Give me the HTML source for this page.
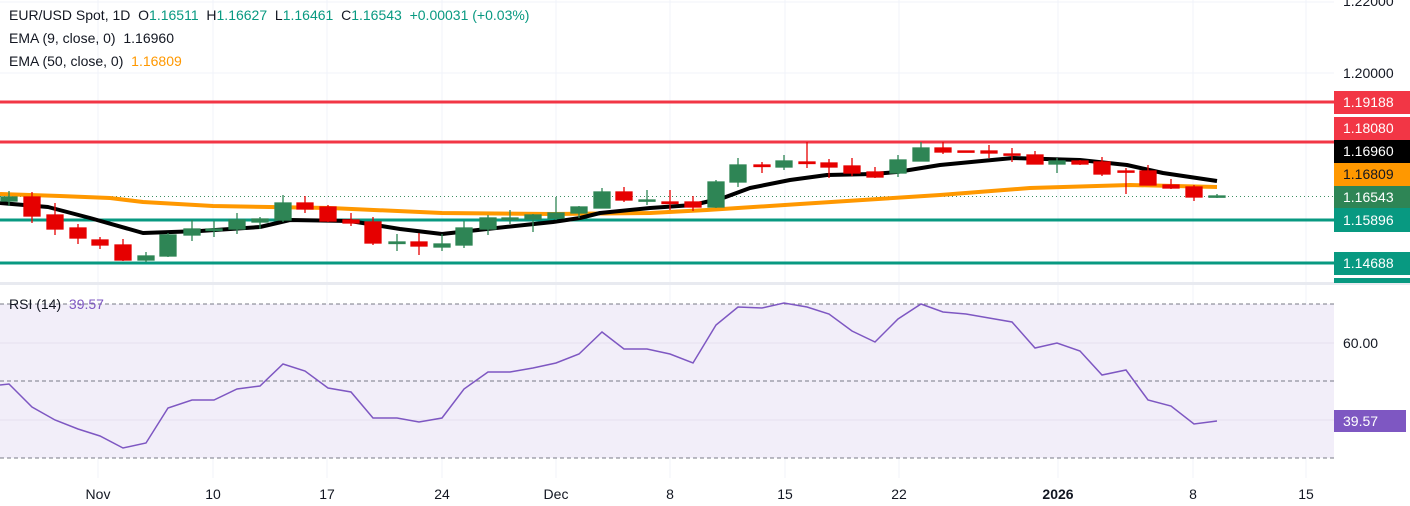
<!DOCTYPE html>
<html><head><meta charset="utf-8"><style>
html,body{margin:0;padding:0;background:#fff;}
svg{display:block;font-family:"Liberation Sans",sans-serif;}
text{white-space:pre;}
</style></head><body>
<svg width="1410" height="506" viewBox="0 0 1410 506" xmlns="http://www.w3.org/2000/svg" xml:space="preserve">
<rect width="1410" height="506" fill="#fff"/>
<g stroke="#f0f3fa" stroke-width="1">
<line x1="98" y1="0" x2="98" y2="478"/><line x1="213" y1="0" x2="213" y2="478"/><line x1="327" y1="0" x2="327" y2="478"/><line x1="442" y1="0" x2="442" y2="478"/><line x1="556" y1="0" x2="556" y2="478"/><line x1="670" y1="0" x2="670" y2="478"/><line x1="785" y1="0" x2="785" y2="478"/><line x1="899" y1="0" x2="899" y2="478"/><line x1="1058" y1="0" x2="1058" y2="478"/><line x1="1193" y1="0" x2="1193" y2="478"/><line x1="1306" y1="0" x2="1306" y2="478"/>
<line x1="0" y1="2" x2="1334" y2="2"/><line x1="0" y1="73" x2="1334" y2="73"/>
</g>
<rect x="0" y="282" width="1410" height="3" fill="#e8eaf0"/>
<rect x="0" y="304" width="1334" height="154" fill="#f2eef9"/>
<g stroke="#e6e0f0" stroke-width="1"><line x1="0" y1="343" x2="1334" y2="343"/><line x1="0" y1="420" x2="1334" y2="420"/></g>
<g stroke="#787b86" stroke-width="1" stroke-dasharray="4,3"><line x1="0" y1="304" x2="1334" y2="304"/><line x1="0" y1="381" x2="1334" y2="381"/><line x1="0" y1="458" x2="1334" y2="458"/></g>
<polyline fill="none" stroke="#7e57c2" stroke-width="1.5" points="0,385 9,384 32,407 55,420 78,429 100,436 123,448 146,443 168,408 192,400 214,400 237,389 260,386 283,364 305,371 328,388 351,392 373,418 397,418 419,422 442,418 464,389 488,372 510,372 533,368 556,363 579,354 602,332 624,349 647,349 670,354 693,363 716,325 738,307 762,308 784,303 807,307 829,314 852,331 875,342 898,319 921,304 943,312 966,314 989,318 1012,322 1035,348 1057,343 1080,351 1102,375 1126,370 1148,400 1171,406 1194,424 1217,421"/>
<g stroke-width="3">
<line x1="0" y1="102" x2="1334" y2="102" stroke="#f23645"/>
<line x1="0" y1="142" x2="1334" y2="142" stroke="#f23645"/>
<line x1="0" y1="220" x2="1334" y2="220" stroke="#089981"/>
<line x1="0" y1="263" x2="1334" y2="263" stroke="#089981"/>
</g>
<line x1="0" y1="196.5" x2="1334" y2="196.5" stroke="#3d8f63" stroke-width="1" stroke-dasharray="1,3"/>
<polyline fill="none" stroke="#ff9800" stroke-width="4" stroke-linejoin="round" points="0,194 60,196 110,198 143,202 213,206 330,208 442,213 553,214 650,213 707,210 800,204 940,195 1030,188 1130,185 1217,187"/>
<polyline fill="none" stroke="#000" stroke-width="4" stroke-linejoin="round" points="0,203 48,207 90,218 143,233 200,231 260,227 290,220 350,221 400,229 442,234 487,229 553,222 580,218 600,213 650,208 693,205 723,198 750,188 790,180 827,175 873,174 897,172 940,165 1013,158 1080,160 1127,165 1163,173 1217,181"/>
<g stroke-width="1.3">
<g stroke="#2e8555" fill="#2e8555"><line x1="9" y1="191" x2="9" y2="206"/><rect x="1" y="197" width="16" height="4"/></g>
<g stroke="#e60000" fill="#e60000"><line x1="32" y1="192" x2="32" y2="223"/><rect x="24" y="197" width="16" height="19"/></g>
<g stroke="#e60000" fill="#e60000"><line x1="55" y1="203" x2="55" y2="235"/><rect x="47" y="215" width="16" height="14"/></g>
<g stroke="#e60000" fill="#e60000"><line x1="78" y1="224" x2="78" y2="244"/><rect x="70" y="228" width="16" height="10"/></g>
<g stroke="#e60000" fill="#e60000"><line x1="100" y1="237" x2="100" y2="249"/><rect x="92" y="240" width="16" height="5"/></g>
<g stroke="#e60000" fill="#e60000"><line x1="123" y1="239" x2="123" y2="261"/><rect x="115" y="245" width="16" height="15"/></g>
<g stroke="#2e8555" fill="#2e8555"><line x1="146" y1="252" x2="146" y2="262"/><rect x="138" y="256" width="16" height="4"/></g>
<g stroke="#2e8555" fill="#2e8555"><line x1="168" y1="233" x2="168" y2="257"/><rect x="160" y="235" width="16" height="21"/></g>
<g stroke="#2e8555" fill="#2e8555"><line x1="192" y1="220" x2="192" y2="241"/><rect x="184" y="229" width="16" height="6"/></g>
<g stroke="#2e8555" fill="#2e8555"><line x1="214" y1="221" x2="214" y2="237"/><rect x="206" y="229" width="16" height="1.5"/></g>
<g stroke="#2e8555" fill="#2e8555"><line x1="237" y1="213" x2="237" y2="234"/><rect x="229" y="220" width="16" height="9"/></g>
<g stroke="#2e8555" fill="#2e8555"><line x1="260" y1="217" x2="260" y2="229"/><rect x="252" y="219" width="16" height="3"/></g>
<g stroke="#2e8555" fill="#2e8555"><line x1="283" y1="195" x2="283" y2="222"/><rect x="275" y="203" width="16" height="17"/></g>
<g stroke="#e60000" fill="#e60000"><line x1="305" y1="196" x2="305" y2="213"/><rect x="297" y="203" width="16" height="6"/></g>
<g stroke="#e60000" fill="#e60000"><line x1="328" y1="205" x2="328" y2="222"/><rect x="320" y="207" width="16" height="14"/></g>
<g stroke="#e60000" fill="#e60000"><line x1="351" y1="213" x2="351" y2="226"/><rect x="343" y="220" width="16" height="3"/></g>
<g stroke="#e60000" fill="#e60000"><line x1="373" y1="217" x2="373" y2="245"/><rect x="365" y="222" width="16" height="21"/></g>
<g stroke="#2e8555" fill="#2e8555"><line x1="397" y1="234" x2="397" y2="251"/><rect x="389" y="242" width="16" height="1.5"/></g>
<g stroke="#e60000" fill="#e60000"><line x1="419" y1="233" x2="419" y2="255"/><rect x="411" y="242" width="16" height="4"/></g>
<g stroke="#2e8555" fill="#2e8555"><line x1="442" y1="234" x2="442" y2="251"/><rect x="434" y="244" width="16" height="3"/></g>
<g stroke="#2e8555" fill="#2e8555"><line x1="464" y1="221" x2="464" y2="248"/><rect x="456" y="228" width="16" height="17"/></g>
<g stroke="#2e8555" fill="#2e8555"><line x1="488" y1="215" x2="488" y2="235"/><rect x="480" y="218" width="16" height="11"/></g>
<g stroke="#2e8555" fill="#2e8555"><line x1="510" y1="210" x2="510" y2="224"/><rect x="502" y="218" width="16" height="1.5"/></g>
<g stroke="#2e8555" fill="#2e8555"><line x1="533" y1="214" x2="533" y2="232"/><rect x="525" y="215" width="16" height="4"/></g>
<g stroke="#2e8555" fill="#2e8555"><line x1="556" y1="197" x2="556" y2="220"/><rect x="548" y="213" width="16" height="5"/></g>
<g stroke="#2e8555" fill="#2e8555"><line x1="579" y1="206" x2="579" y2="218"/><rect x="571" y="207" width="16" height="6"/></g>
<g stroke="#2e8555" fill="#2e8555"><line x1="602" y1="188" x2="602" y2="208"/><rect x="594" y="192" width="16" height="16"/></g>
<g stroke="#e60000" fill="#e60000"><line x1="624" y1="187" x2="624" y2="202"/><rect x="616" y="192" width="16" height="8"/></g>
<g stroke="#2e8555" fill="#2e8555"><line x1="647" y1="190" x2="647" y2="205"/><rect x="639" y="200" width="16" height="1.2"/></g>
<g stroke="#e60000" fill="#e60000"><line x1="670" y1="190" x2="670" y2="210"/><rect x="662" y="202" width="16" height="1.5"/></g>
<g stroke="#e60000" fill="#e60000"><line x1="693" y1="196" x2="693" y2="211"/><rect x="685" y="202" width="16" height="5"/></g>
<g stroke="#2e8555" fill="#2e8555"><line x1="716" y1="180" x2="716" y2="208"/><rect x="708" y="182" width="16" height="25"/></g>
<g stroke="#2e8555" fill="#2e8555"><line x1="738" y1="158" x2="738" y2="187"/><rect x="730" y="165" width="16" height="17"/></g>
<g stroke="#e60000" fill="#e60000"><line x1="762" y1="162" x2="762" y2="173"/><rect x="754" y="165" width="16" height="1.5"/></g>
<g stroke="#2e8555" fill="#2e8555"><line x1="784" y1="155" x2="784" y2="170"/><rect x="776" y="161" width="16" height="6"/></g>
<g stroke="#e60000" fill="#e60000"><line x1="807" y1="142" x2="807" y2="168"/><rect x="799" y="162" width="16" height="1.5"/></g>
<g stroke="#e60000" fill="#e60000"><line x1="829" y1="159" x2="829" y2="178"/><rect x="821" y="163" width="16" height="4"/></g>
<g stroke="#e60000" fill="#e60000"><line x1="852" y1="158" x2="852" y2="176"/><rect x="844" y="166" width="16" height="7"/></g>
<g stroke="#e60000" fill="#e60000"><line x1="875" y1="167" x2="875" y2="178"/><rect x="867" y="172" width="16" height="5"/></g>
<g stroke="#2e8555" fill="#2e8555"><line x1="898" y1="155" x2="898" y2="177"/><rect x="890" y="160" width="16" height="13"/></g>
<g stroke="#2e8555" fill="#2e8555"><line x1="921" y1="142" x2="921" y2="161"/><rect x="913" y="148" width="16" height="13"/></g>
<g stroke="#e60000" fill="#e60000"><line x1="943" y1="142" x2="943" y2="154"/><rect x="935" y="148" width="16" height="4"/></g>
<g stroke="#e60000" fill="#e60000"><rect x="958" y="151" width="16" height="1.2"/></g>
<g stroke="#e60000" fill="#e60000"><line x1="989" y1="145" x2="989" y2="158"/><rect x="981" y="151" width="16" height="2"/></g>
<g stroke="#e60000" fill="#e60000"><line x1="1012" y1="148" x2="1012" y2="162"/><rect x="1004" y="154" width="16" height="1.2"/></g>
<g stroke="#e60000" fill="#e60000"><line x1="1035" y1="151" x2="1035" y2="164"/><rect x="1027" y="155" width="16" height="9"/></g>
<g stroke="#2e8555" fill="#2e8555"><line x1="1057" y1="158" x2="1057" y2="173"/><rect x="1049" y="161" width="16" height="3"/></g>
<g stroke="#e60000" fill="#e60000"><line x1="1080" y1="160" x2="1080" y2="165"/><rect x="1072" y="161" width="16" height="3"/></g>
<g stroke="#e60000" fill="#e60000"><line x1="1102" y1="157" x2="1102" y2="176"/><rect x="1094" y="162" width="16" height="12"/></g>
<g stroke="#e60000" fill="#e60000"><line x1="1126" y1="168" x2="1126" y2="194"/><rect x="1118" y="171" width="16" height="1.2"/></g>
<g stroke="#e60000" fill="#e60000"><line x1="1148" y1="165" x2="1148" y2="185"/><rect x="1140" y="171" width="16" height="14"/></g>
<g stroke="#e60000" fill="#e60000"><line x1="1171" y1="179" x2="1171" y2="189"/><rect x="1163" y="185" width="16" height="3"/></g>
<g stroke="#e60000" fill="#e60000"><line x1="1194" y1="185" x2="1194" y2="201"/><rect x="1186" y="187" width="16" height="10"/></g>
<g stroke="#2e8555" fill="#2e8555"><line x1="1217" y1="194" x2="1217" y2="198"/><rect x="1209" y="196" width="16" height="1.2"/></g>
</g>
<g font-size="14" fill="#131722">
<text x="9" y="20">EUR/USD Spot, 1D  O<tspan fill="#089981">1.16511</tspan>  H<tspan fill="#089981">1.16627</tspan>  L<tspan fill="#089981">1.16461</tspan>  C<tspan fill="#089981">1.16543</tspan>  <tspan fill="#089981">+0.00031 (+0.03%)</tspan></text>
<text x="9" y="43">EMA (9, close, 0)  1.16960</text>
<text x="9" y="66">EMA (50, close, 0)  <tspan fill="#ff9800">1.16809</tspan></text>
<text x="9" y="309">RSI (14)  <tspan fill="#7e57c2">39.57</tspan></text>
</g>
<rect x="1334" y="0" width="76" height="282" fill="#fff"/>
<g font-size="14" fill="#131722">
<text x="1343" y="6">1.22000</text>
<text x="1343" y="78">1.20000</text>
<text x="1343" y="348">60.00</text>
</g>
<g font-size="14" fill="#fff">
<rect x="1334" y="91" width="76" height="23" fill="#f23645"/><text x="1343" y="107">1.19188</text>
<rect x="1334" y="117" width="76" height="23" fill="#f23645"/><text x="1343" y="133">1.18080</text>
<rect x="1334" y="140" width="76" height="23" fill="#000"/><text x="1343" y="156">1.16960</text>
<rect x="1334" y="163" width="76" height="23" fill="#ff9800"/><text x="1343" y="179" fill="#131722">1.16809</text>
<rect x="1334" y="186" width="76" height="22" fill="#2e8555"/><text x="1343" y="202">1.16543</text>
<rect x="1334" y="208" width="76" height="24" fill="#089981"/><text x="1343" y="225">1.15896</text>
<rect x="1334" y="252" width="76" height="23" fill="#089981"/><text x="1343" y="268">1.14688</text>
<svg x="1334" y="278" width="76" height="5"><rect x="0" y="0" width="76" height="23" fill="#089981"/><text x="9" y="15" fill="#fff">1.13917</text></svg>
<rect x="1334" y="410" width="72" height="22" fill="#7e57c2"/><text x="1343" y="426">39.57</text>
</g>
<g font-size="14" fill="#131722" text-anchor="middle">
<text x="98" y="499">Nov</text><text x="213" y="499">10</text><text x="327" y="499">17</text><text x="442" y="499">24</text><text x="556" y="499">Dec</text><text x="670" y="499">8</text><text x="785" y="499">15</text><text x="899" y="499">22</text><text x="1058" y="499" font-weight="bold">2026</text><text x="1193" y="499">8</text><text x="1306" y="499">15</text>
</g>
</svg>
</body></html>
